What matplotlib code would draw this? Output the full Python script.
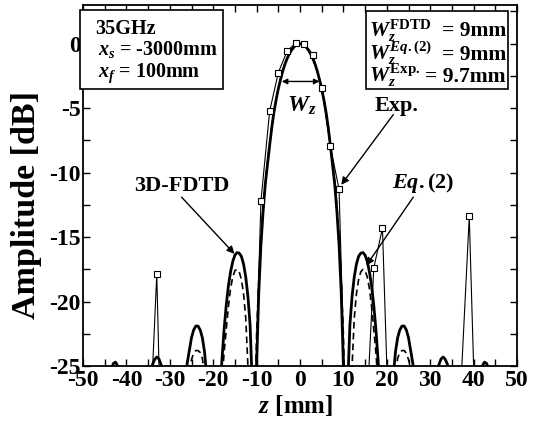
import matplotlib
matplotlib.use("Agg")
import matplotlib.pyplot as plt
from matplotlib.ticker import MultipleLocator
from matplotlib.patches import Rectangle

plt.rcParams['font.family'] = ['Liberation Serif', 'DejaVu Serif']
plt.rcParams['font.weight'] = 'bold'
plt.rcParams['axes.labelweight'] = 'bold'
plt.rcParams['axes.unicode_minus'] = False
plt.rcParams['mathtext.fontset'] = 'custom'
plt.rcParams['mathtext.rm'] = 'Liberation Serif:bold'
plt.rcParams['mathtext.it'] = 'Liberation Serif:italic:bold'
plt.rcParams['mathtext.bf'] = 'Liberation Serif:bold'

# ---- data ----
fdtd_z = [-50, -48, -46.5, -45, -44, -43.5, -43, -42.5, -42, -41.5, -41, -40, -37.5,
          -35, -34.5, -34, -33.5, -33, -32.5, -32, -31.5, -31, -30, -28.5,
          -27, -26.5, -26, -25.5, -25, -24.5, -24, -23.5, -23, -22.5, -22, -21.5, -21, -20.5, -19.8,
          -19, -18.5, -18, -17.5, -17, -16.5, -16, -15.5, -15, -14.5, -14, -13.5, -13, -12.5, -12,
          -11.5, -11, -10.5,
          -10, -9.5, -9, -8.5, -8, -7.5, -7, -6.5, -6, -5.5, -5, -4.5, -4, -3.5, -3, -2.5, -2,
          -1.5, -1, -0.5, 0, 0.5, 1, 1.5, 2, 2.5, 3, 3.5, 4, 4.5, 5, 5.5, 6, 6.5, 7, 7.5, 8,
          8.5, 9, 9.5, 10,
          10.5, 11, 11.5, 12, 12.5, 13, 13.5, 14, 14.5, 15, 15.5, 16, 16.5, 17, 17.5, 18, 18.5, 19,
          19.8, 20.5, 21, 21.5, 22, 22.5, 23, 23.5, 24, 24.5, 25, 25.5, 26, 26.5, 27,
          28.5, 30, 31, 31.5, 32, 32.5, 33, 33.5, 34, 34.5, 35, 37.5,
          40, 41, 41.5, 42, 42.5, 43, 43.5, 44, 45, 46.5, 48, 50]
fdtd_db = [-28, -30, -40, -29, -26.3, -25.3, -24.8, -24.7, -25.0, -25.8, -27, -30, -40,
           -27.5, -25.8, -24.9, -24.5, -24.3, -24.45, -24.9, -26, -27.5, -31, -40,
           -29, -26.5, -24.8, -23.8, -22.8, -22.2, -21.9, -21.9, -22.2, -22.8, -23.9, -25.8, -28.5, -33, -40,
           -32, -27.5, -24.6, -22.2, -20.3, -18.8, -17.7, -16.9, -16.4, -16.2, -16.25, -16.5, -17.1, -18.1, -19.6,
           -21.8, -26.5, -35,
           -25.0, -19.3, -15.6, -13.0, -10.9, -9.4, -7.9, -6.5, -5.3, -4.35, -3.5, -2.8, -2.15, -1.62, -1.18, -0.82, -0.52,
           -0.3, -0.13, -0.03, 0, -0.03, -0.13, -0.3, -0.52, -0.82, -1.18, -1.62, -2.15, -2.8, -3.5, -4.35, -5.3, -6.5, -7.9, -9.4, -10.9,
           -13.0, -15.6, -19.3, -25.0,
           -35, -26.5, -21.8, -19.6, -18.1, -17.1, -16.5, -16.25, -16.2, -16.4, -16.9, -17.7, -18.8, -20.3, -22.2, -24.6, -27.5, -32,
           -40, -33, -28.5, -25.8, -23.9, -22.8, -22.2, -21.9, -21.9, -22.2, -22.8, -23.8, -24.8, -26.5, -29,
           -40, -31, -27.5, -26, -24.9, -24.45, -24.3, -24.5, -24.9, -25.8, -27.5, -40,
           -30, -27, -25.8, -25.0, -24.7, -24.8, -25.3, -26.3, -29, -40, -30, -28]

eq2_z = [-50, -47, -45, -42.5, -40, -37.5, -35, -33, -30, -27.5, -26, -25.5, -25, -24.5, -24, -23.5,
         -23, -22.5, -22, -21, -20, -19, -18, -17.5, -17, -16.5, -16, -15.5, -15, -14.5, -14, -13.5,
         -13, -12.5, -12, -11.5, -11, -10.5,
         -10, -9.5, -9, -8.5, -8, -7.5, -7, -6.5, -6, -5.5, -5, -4.5, -4, -3.5, -3, -2.5, -2,
         -1.5, -1, -0.5, 0, 0.5, 1, 1.5, 2, 2.5, 3, 3.5, 4, 4.5, 5, 5.5, 6, 6.5, 7, 7.5, 8,
         8.5, 9, 9.5, 10,
         10.5, 11, 11.5, 12, 12.5, 13, 13.5, 14, 14.5, 15, 15.5, 16, 16.5, 17, 17.5, 18, 19, 20,
         21, 22, 22.5, 23, 23.5, 24, 24.5, 25, 25.5, 26, 27.5, 30, 33, 35, 37.5, 40, 42.5, 45, 47, 50]
eq2_db = [-32, -40, -31, -27.5, -31, -40, -30, -26.5, -30, -40, -27, -25.2, -24.5, -24.0, -23.8, -23.8,
          -23.95, -24.4, -25.8, -31, -40, -33, -26.5, -24.0, -22.2, -20.4, -19.0, -18.1, -17.6, -17.5, -17.7, -18.3,
          -19.4, -21.3, -25, -30, -40, -30,
          -22.5, -18.3, -15.0, -12.6, -10.7, -9.2, -7.8, -6.45, -5.3, -4.35, -3.5, -2.8, -2.15, -1.62, -1.18, -0.82, -0.52,
          -0.3, -0.13, -0.03, 0, -0.03, -0.13, -0.3, -0.52, -0.82, -1.18, -1.62, -2.15, -2.8, -3.5, -4.35, -5.3, -6.45, -7.8, -9.2, -10.7,
          -12.6, -15.0, -18.3, -22.5,
          -30, -40, -30, -25, -21.3, -19.4, -18.3, -17.7, -17.5, -17.6, -18.1, -19.0, -20.4, -22.2, -24.0, -26.5, -33, -40,
          -31, -25.8, -24.4, -23.95, -23.8, -23.8, -24.0, -24.5, -25.2, -27, -40, -30, -26.5, -30, -40, -31, -27.5, -31, -40, -32]

exp_z = [-49, -47, -45, -43, -41, -39, -37, -35, -33, -31, -29, -27, -25, -23, -21, -19, -17, -15,
         -13, -11, -9, -7, -5, -3, -1, 1, 3, 5, 7, 9, 11, 13, 15, 17, 19, 21, 23, 25, 27, 29, 31,
         33, 35, 37, 39, 41, 43, 45, 47, 49]
exp_db = [-40, -40, -40, -40, -40, -40, -40, -33, -17.85, -46, -40, -40, -40, -40, -40, -40, -40, -40,
          -40, -35, -12.2, -5.25, -2.25, -0.6, 0.05, 0.0, -0.88, -3.45, -7.95, -11.3, -35, -40, -31.2, -17.4, -14.3, -35.7, -40, -40, -40, -40, -40,
          -40, -60, -27, -13.4, -36.6, -40, -40, -40, -40]

x_ticks = [-50, -40, -30, -20, -10, 0, 10, 20, 30, 40, 50]
y_ticks = [0, -5, -10, -15, -20, -25]

W, H = 547, 425
fig = plt.figure(figsize=(W / 100, H / 100), dpi=100)
ax = fig.add_axes([83 / W, 1 - 366 / H, 434 / W, 361 / H])

ax.plot(fdtd_z, fdtd_db, color='black', lw=2.0, solid_joinstyle='round')
ax.plot(eq2_z, eq2_db, color='black', lw=1.2, ls=(0, (4, 2.5)))
ax.plot(exp_z, exp_db, color='black', lw=0.8, marker='s', markersize=4.2,
        markerfacecolor='white', markeredgecolor='black', markeredgewidth=0.8)

ax.set_xlim(-50, 50)
ax.set_ylim(-25, 3)
ax.set_xticks(x_ticks)
ax.set_yticks(y_ticks)
ax.xaxis.set_minor_locator(MultipleLocator(5))
ax.yaxis.set_minor_locator(MultipleLocator(2.5))
ax.tick_params(which='both', direction='in', top=True, right=True, length=5, width=1)
ax.tick_params(axis='x', labelsize=17, pad=3)
ax.tick_params(axis='y', labelsize=17, pad=1.5)
for s in ax.spines.values():
    s.set_linewidth(1.3)

fig.text(296 / W, 1 - 406 / H, r'$z$ [mm]', ha='center', va='center', fontsize=18)
fig.text(27 / W, 1 - 205 / H, 'Amplitude [dB]', ha='center', va='center', rotation=90, fontsize=24.5)

# parameter boxes
def px(x, y):
    return (x / W, 1 - y / H)

fig.patches.append(Rectangle(px(80, 89.3), (222.7 - 80) / W, (89.3 - 10) / H,
                             transform=fig.transFigure, fill=True, facecolor='white',
                             edgecolor='black', lw=1.2, zorder=5))
fig.patches.append(Rectangle(px(366, 89.3), (508.3 - 366) / W, (89.3 - 10.7) / H,
                             transform=fig.transFigure, fill=True, facecolor='white',
                             edgecolor='black', lw=1.2, zorder=5))

bs = 14.5
fig.text(*px(95, 33.5), '35GHz', fontsize=bs, va='baseline', ha='left', zorder=6)
fig.text(*px(98, 55), r'$x_s$ = -3000mm', fontsize=bs, va='baseline', ha='left', zorder=6)
fig.text(*px(98, 77), r'$x_f$ = 100mm', fontsize=bs, va='baseline', ha='left', zorder=6)

fig.text(*px(369, 36.5), r'$W_z^{\mathrm{FDTD}}$', fontsize=bs + 1, va='baseline', ha='left', zorder=6)
fig.text(*px(442, 36.5), '= 9mm', fontsize=bs + 1, va='baseline', ha='left', zorder=6)
fig.text(*px(369, 60), r'$W_z^{Eq.\mathrm{(2)}}$', fontsize=bs + 1, va='baseline', ha='left', zorder=6)
fig.text(*px(442, 60), '= 9mm', fontsize=bs + 1, va='baseline', ha='left', zorder=6)
fig.text(*px(369, 82), r'$W_z^{\mathrm{Exp.}}$', fontsize=bs + 1, va='baseline', ha='left', zorder=6)
fig.text(*px(425, 82), '= 9.7mm', fontsize=bs + 1, va='baseline', ha='left', zorder=6)

# annotations
arr = dict(arrowstyle='-|>', color='black', lw=1.0, mutation_scale=11, shrinkA=0, shrinkB=0)
ax.text(22.3, -4.87, 'Exp.', fontsize=16, ha='center', va='center')
ax.annotate('', xy=(9.5, -10.95), xytext=(21.5, -5.5), arrowprops=arr)
ax.text(-27.3, -11.0, '3D-FDTD', fontsize=16, ha='center', va='center')
ax.annotate('', xy=(-15.1, -16.3), xytext=(-27.3, -11.9), arrowprops=arr)
ax.text(28.4, -10.8, r'$Eq.$(2)', fontsize=16, ha='center', va='center')
ax.annotate('', xy=(15.3, -17.2), xytext=(26.1, -11.9), arrowprops=arr)
ax.text(0.4, -4.8, r'$W_z$', fontsize=17, ha='center', va='center')
ax.annotate('', xy=(-4.2, -2.93), xytext=(4.5, -2.93),
            arrowprops=dict(arrowstyle='<|-|>', color='black', lw=1.0, mutation_scale=8,
                            shrinkA=0, shrinkB=0))

fig.savefig('out.png', dpi=100)
